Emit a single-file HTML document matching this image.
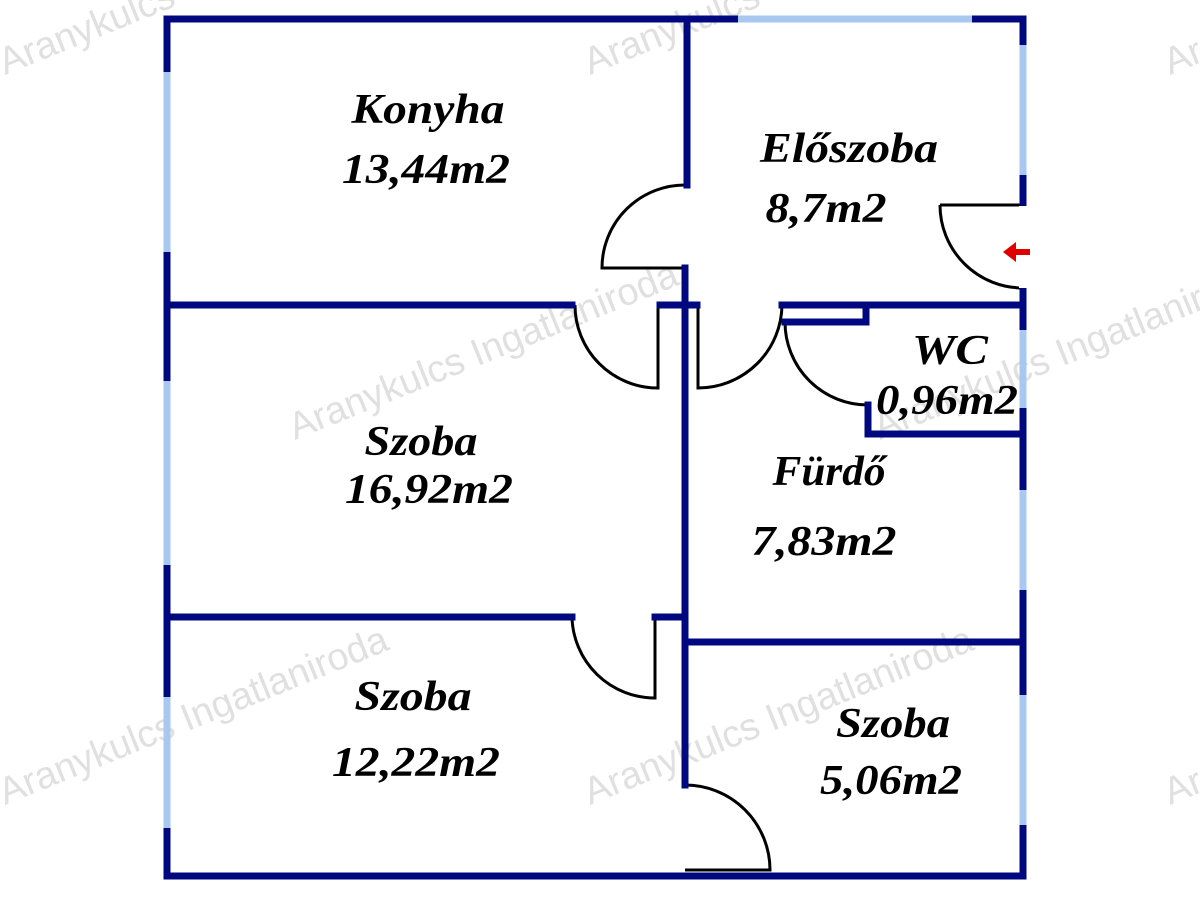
<!DOCTYPE html>
<html><head><meta charset="utf-8"><style>
html,body{margin:0;padding:0;background:#fff;}
svg{display:block;}
.t{font-family:"Liberation Serif",serif;font-style:italic;font-weight:bold;font-size:42px;fill:#000;text-anchor:middle;}
.w{font-family:"Liberation Sans",sans-serif;font-size:38px;fill:#e0e0e0;}
</style></head><body>
<svg width="1200" height="900" viewBox="0 0 1200 900" xmlns="http://www.w3.org/2000/svg">
<g class="w">
<text x="5" y="75" transform="rotate(-22 5 75)">Aranykulcs Ingatlaniroda</text>
<text x="590" y="75" transform="rotate(-22 590 75)">Aranykulcs Ingatlaniroda</text>
<text x="1170" y="75" transform="rotate(-22 1170 75)">Aranykulcs Ingatlaniroda</text>
<text x="295" y="440" transform="rotate(-22 295 440)">Aranykulcs Ingatlaniroda</text>
<text x="880" y="440" transform="rotate(-22 880 440)">Aranykulcs Ingatlaniroda</text>
<text x="5" y="805" transform="rotate(-22 5 805)">Aranykulcs Ingatlaniroda</text>
<text x="590" y="805" transform="rotate(-22 590 805)">Aranykulcs Ingatlaniroda</text>
<text x="1170" y="805" transform="rotate(-22 1170 805)">Aranykulcs Ingatlaniroda</text>
</g>
<g fill="none" stroke="#000" stroke-width="3">
<path d="M687 185 A83 83 0 0 0 602 268 L687 268"/>
<path d="M575 305 A83 83 0 0 0 658 388 L658 305"/>
<path d="M782 305 A84 84 0 0 1 698 388 L698 305"/>
<path d="M785 322 A83 83 0 0 0 868 405"/>
<path d="M940 205 A83 83 0 0 0 1023 288 M940 205 L1023 205"/>
<path d="M572 617 A83 83 0 0 0 655 698 L655 617"/>
<path d="M685 785 A85 85 0 0 1 770 870 L685 870"/>
</g>
<g stroke="#00087f" stroke-width="7" fill="none" stroke-linecap="square">
<path d="M167 19 L1023 19 L1023 876 L167 876 Z"/>
<path d="M687 19 L687 185"/>
<path d="M685 268 L685 785"/>
<path d="M167 305 L572 305"/>
<path d="M660 305 L697 305"/>
<path d="M782 305 L1023 305"/>
<path d="M785 322 L866 322 L866 305"/>
<path d="M868 405 L868 434 L1023 434"/>
<path d="M167 617 L572 617"/>
<path d="M655 617 L685 617"/>
<path d="M685 642 L1023 642"/>
</g>
<g stroke="#a8c8f0" stroke-width="7">
<path d="M167 72 L167 252"/>
<path d="M167 381 L167 565"/>
<path d="M167 697 L167 828"/>
<path d="M738 19 L972 19"/>
<path d="M1023 45 L1023 175"/>
<path d="M1023 330 L1023 408"/>
<path d="M1023 490 L1023 590"/>
<path d="M1023 695 L1023 825"/>
</g>
<rect x="1019" y="206" width="10" height="82" fill="#fff"/>
<path d="M1030 252 L1016 252" stroke="#e00000" stroke-width="6"/>
<path d="M1003 252 L1016 242 L1016 262 Z" fill="#e00000"/>
<g class="t">
<text x="428" y="123" textLength="153" lengthAdjust="spacingAndGlyphs">Konyha</text>
<text x="426" y="183" textLength="168" lengthAdjust="spacingAndGlyphs">13,44m2</text>
<text x="849" y="162" textLength="178" lengthAdjust="spacingAndGlyphs">Előszoba</text>
<text x="826" y="222" textLength="121" lengthAdjust="spacingAndGlyphs">8,7m2</text>
<text x="950" y="364" textLength="76" lengthAdjust="spacingAndGlyphs">WC</text>
<text x="947" y="414" textLength="142" lengthAdjust="spacingAndGlyphs">0,96m2</text>
<text x="829" y="485" textLength="113" lengthAdjust="spacingAndGlyphs">Fürdő</text>
<text x="824" y="555" textLength="145" lengthAdjust="spacingAndGlyphs">7,83m2</text>
<text x="421" y="455" textLength="113" lengthAdjust="spacingAndGlyphs">Szoba</text>
<text x="429" y="503" textLength="168" lengthAdjust="spacingAndGlyphs">16,92m2</text>
<text x="413" y="710" textLength="117" lengthAdjust="spacingAndGlyphs">Szoba</text>
<text x="416" y="776" textLength="168" lengthAdjust="spacingAndGlyphs">12,22m2</text>
<text x="893" y="737" textLength="114" lengthAdjust="spacingAndGlyphs">Szoba</text>
<text x="891" y="794" textLength="142" lengthAdjust="spacingAndGlyphs">5,06m2</text>
</g>
</svg>
</body></html>
